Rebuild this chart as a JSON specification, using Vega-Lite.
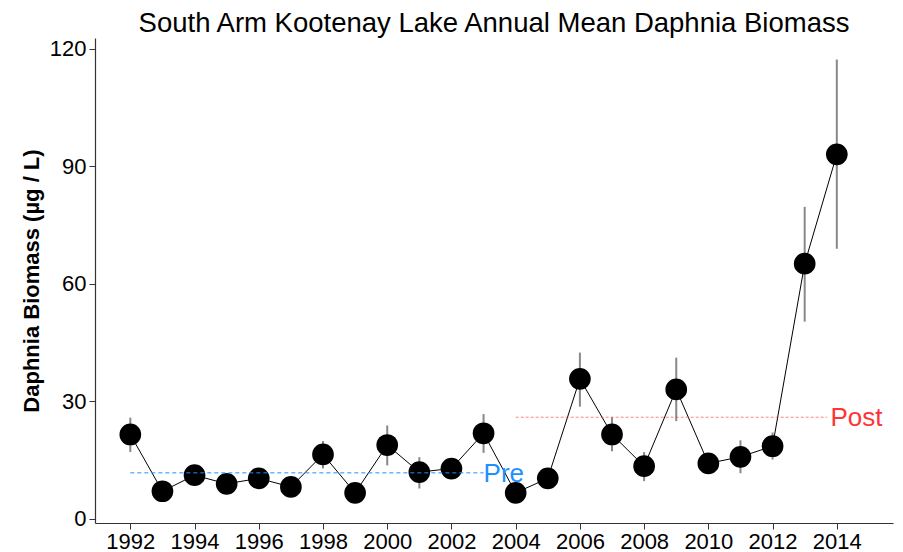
{
  "$schema": "https://vega.github.io/schema/vega-lite/v6.json",
  "width": 798,
  "height": 485,
  "autosize": {"type": "none"},
  "padding": {"left": 95, "top": 38, "right": 10, "bottom": 29},
  "background": "white",
  "config": {
    "view": {"stroke": null},
    "font": "Liberation Sans",
    "axis": {"grid": false, "domainColor": "#333333", "tickColor": "#333333", "labelColor": "#000000", "labelFont": "Liberation Sans", "titleFont": "Liberation Sans", "labelFontSize": 22, "tickSize": 6, "domainWidth": 1.2, "tickWidth": 1}
  },
  "title": {"text": "South Arm Kootenay Lake Annual Mean Daphnia Biomass", "fontSize": 27.5, "fontWeight": "normal", "font": "Liberation Sans", "color": "#000000", "anchor": "middle", "offset": 0},
  "datasets": {
    "bio": [
      {"year": 1992, "mean": 21.5, "lo": 17.0, "hi": 25.8},
      {"year": 1993, "mean": 7.0, "lo": 5.5, "hi": 8.5},
      {"year": 1994, "mean": 11.1, "lo": 9.0, "hi": 13.5},
      {"year": 1995, "mean": 8.9, "lo": 7.5, "hi": 10.5},
      {"year": 1996, "mean": 10.3, "lo": 8.5, "hi": 12.0},
      {"year": 1997, "mean": 8.1, "lo": 6.8, "hi": 9.5},
      {"year": 1998, "mean": 16.4, "lo": 12.8, "hi": 19.8},
      {"year": 1999, "mean": 6.6, "lo": 5.5, "hi": 8.0},
      {"year": 2000, "mean": 18.8, "lo": 13.6, "hi": 23.8},
      {"year": 2001, "mean": 11.9, "lo": 7.7, "hi": 15.7},
      {"year": 2002, "mean": 12.8, "lo": 10.5, "hi": 15.0},
      {"year": 2003, "mean": 21.8, "lo": 16.8, "hi": 26.7},
      {"year": 2004, "mean": 6.6, "lo": 5.0, "hi": 8.0},
      {"year": 2005, "mean": 10.3, "lo": 8.5, "hi": 12.5},
      {"year": 2006, "mean": 35.7, "lo": 28.6, "hi": 42.4},
      {"year": 2007, "mean": 21.5, "lo": 17.2, "hi": 25.9},
      {"year": 2008, "mean": 13.4, "lo": 9.6, "hi": 17.0},
      {"year": 2009, "mean": 33.0, "lo": 24.9, "hi": 41.1},
      {"year": 2010, "mean": 14.1, "lo": 11.5, "hi": 16.5},
      {"year": 2011, "mean": 15.8, "lo": 11.6, "hi": 20.0},
      {"year": 2012, "mean": 18.5, "lo": 15.1, "hi": 22.0},
      {"year": 2013, "mean": 65.1, "lo": 50.3, "hi": 79.6},
      {"year": 2014, "mean": 93.0, "lo": 68.9, "hi": 117.2}
    ],
    "periods": [
      {"period": "Pre", "start": 1992, "end": 2003, "avg": 11.7, "labelx": 2003.0},
      {"period": "Post", "start": 2004, "end": 2013.7, "avg": 25.9, "labelx": 2013.8}
    ]
  },
  "layer": [
    {
      "data": {"name": "bio"},
      "mark": {"type": "rule", "color": "#888888", "strokeWidth": 2},
      "encoding": {
        "x": {"field": "year", "type": "quantitative"},
        "y": {"field": "lo", "type": "quantitative"},
        "y2": {"field": "hi"}
      }
    },
    {
      "data": {"name": "bio"},
      "mark": {"type": "line", "color": "#000000", "strokeWidth": 1},
      "encoding": {
        "x": {"field": "year", "type": "quantitative"},
        "y": {"field": "mean", "type": "quantitative"}
      }
    },
    {
      "data": {"name": "bio"},
      "mark": {"type": "circle", "color": "#000000", "opacity": 1, "size": 470},
      "encoding": {
        "x": {"field": "year", "type": "quantitative", "scale": {"domain": [1990.9, 2015.75], "nice": false, "zero": false},
          "axis": {"title": null, "values": [1992,1993,1994,1995,1996,1997,1998,1999,2000,2001,2002,2003,2004,2005,2006,2007,2008,2009,2010,2011,2012,2013,2014], "format": "d", "labelExpr": "datum.value % 2 == 0 ? datum.label : ''", "labelPadding": 2, "labelFlush": false, "labelOverlap": false}},
        "y": {"field": "mean", "type": "quantitative", "scale": {"domain": [-1.1, 122.7], "nice": false, "zero": false},
          "axis": {"title": "Daphnia Biomass (µg / L)", "values": [0, 30, 60, 90, 120], "titleFontSize": 22, "titleFontWeight": "bold", "titleColor": "#000000", "titlePadding": 6, "labelPadding": 3}}
      }
    },
    {
      "data": {"name": "periods"},
      "mark": {"type": "rule", "strokeWidth": 1},
      "encoding": {
        "x": {"field": "start", "type": "quantitative"},
        "x2": {"field": "end"},
        "y": {"field": "avg", "type": "quantitative"},
        "color": {"field": "period", "type": "nominal", "scale": {"domain": ["Pre", "Post"], "range": ["#1E90FF", "#FF3333"]}, "legend": null},
        "opacity": {"field": "period", "type": "nominal", "scale": {"domain": ["Pre", "Post"], "range": [1, 0.6]}, "legend": null},
        "strokeDash": {"field": "period", "type": "nominal", "scale": {"domain": ["Pre", "Post"], "range": [[4, 3], [3, 2]]}, "legend": null}
      }
    },
    {
      "data": {"name": "periods"},
      "mark": {"type": "text", "align": "left", "baseline": "middle", "fontSize": 26, "font": "Liberation Sans", "dy": 1},
      "encoding": {
        "x": {"field": "labelx", "type": "quantitative"},
        "y": {"field": "avg", "type": "quantitative"},
        "text": {"field": "period"},
        "color": {"field": "period", "type": "nominal", "legend": null}
      }
    }
  ]
}
